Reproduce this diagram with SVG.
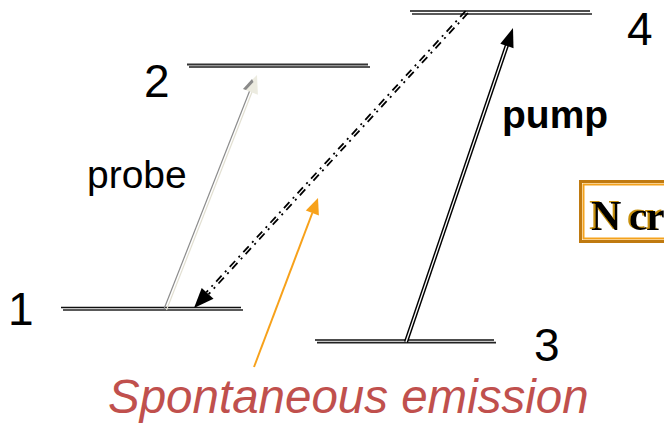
<svg xmlns="http://www.w3.org/2000/svg" width="664" height="426" viewBox="0 0 664 426">
<defs>
<filter id="goldShadow" x="-10%" y="-10%" width="120%" height="120%">
<feFlood flood-color="#c8900a" result="c"/>
<feComposite in="c" in2="SourceAlpha" operator="in" result="s"/>
<feOffset in="s" dx="-2.5" dy="-1" result="o"/>
<feMerge><feMergeNode in="o"/><feMergeNode in="SourceGraphic"/></feMerge>
</filter>
</defs>
<style>
.lvA{stroke:#111;stroke-width:1.7;}
.lvB{stroke:#222;stroke-width:1.7;}
.lbl{font-family:"Liberation Sans",Arial,sans-serif;fill:#000;}
.num{font-size:46px;}
.dash{stroke:#000;stroke-width:1.8;stroke-dasharray:8 5 2 5;fill:none;}
</style>
<rect width="664" height="426" fill="#fff"/>
<g id="level1">
<line class="lvA" x1="61" y1="307.5" x2="241" y2="307.5"/>
<line class="lvB" x1="63" y1="310" x2="243" y2="310"/>
<text class="lbl num" x="8" y="325">1</text>
</g>
<g id="level2">
<line x1="187" y1="64.5" x2="368" y2="64.5" stroke="#333" stroke-width="1.8"/>
<line x1="189" y1="67" x2="370" y2="67" stroke="#555" stroke-width="1.8"/>
<text class="lbl num" x="144" y="97">2</text>
</g>
<g id="level3">
<line class="lvA" x1="315" y1="340" x2="494" y2="340"/>
<line class="lvB" x1="317" y1="342.7" x2="496" y2="342.7"/>
<text class="lbl num" x="534" y="361">3</text>
</g>
<g id="level4">
<line class="lvA" x1="410" y1="11" x2="590" y2="11"/>
<line class="lvB" x1="412" y1="14" x2="592" y2="14"/>
<text class="lbl num" x="627" y="45">4</text>
</g>
<g id="connectors">
<g id="probe-arrow">
<line x1="164" y1="309" x2="249.6" y2="91" stroke="#8c8c8c" stroke-width="1.2"/>
<line x1="166.5" y1="310" x2="252" y2="92" stroke="#e2e0d2" stroke-width="1.2"/>
<polygon points="257,75 257.9,94.7 243,88.9" fill="#ecebe0"/>
<polygon points="252,79 243,88.9 246,90 253.5,82" fill="#8a8a8a"/>
</g>
<g id="pump-arrow">
<line x1="406" y1="342" x2="507" y2="45" stroke="#000" stroke-width="4.2"/>
<line x1="406" y1="342" x2="507" y2="45" stroke="#fff" stroke-width="1.3"/>
<polygon points="513,28 513.5,48.2 500.3,43.8" fill="#000"/>
</g>
<g id="emission-arrow">
<line class="dash" x1="468" y1="13" x2="208.6" y2="294.2"/>
<line class="dash" x1="465.6" y1="11" x2="206.3" y2="292.3"/>
<polygon points="194,308 213.5,298.7 201.7,287.9" fill="#000"/>
</g>
<g id="orange-arrow">
<line x1="254" y1="367" x2="312.3" y2="213" stroke="#f7a11a" stroke-width="2"/>
<polygon points="318,198 318.9,215.4 305.8,210.5" fill="#f7a11a"/>
</g>
</g>
<g id="probe-label"><text class="lbl" x="87" y="188" font-size="39">probe</text></g>
<g id="pump-label"><text class="lbl" x="502" y="128" font-size="39" font-weight="bold">pump</text></g>
<g id="emission-label"><text x="108" y="413" font-family="Liberation Sans,Arial,sans-serif" font-style="italic" font-size="47.5" fill="#c0504d">Spontaneous emission</text></g>
<g id="box">
<rect x="580.5" y="181.5" width="100" height="60" fill="#fff" stroke="#c07a10" stroke-width="3"/>
<rect x="583.5" y="184.5" width="100" height="54" fill="none" stroke="#f4a21c" stroke-width="2"/>
<text x="591" y="230" font-family="Liberation Serif,Times New Roman,serif" font-size="42" font-weight="bold" letter-spacing="-1.5" fill="#000" filter="url(#goldShadow)">N cr</text>
</g>
</svg>
